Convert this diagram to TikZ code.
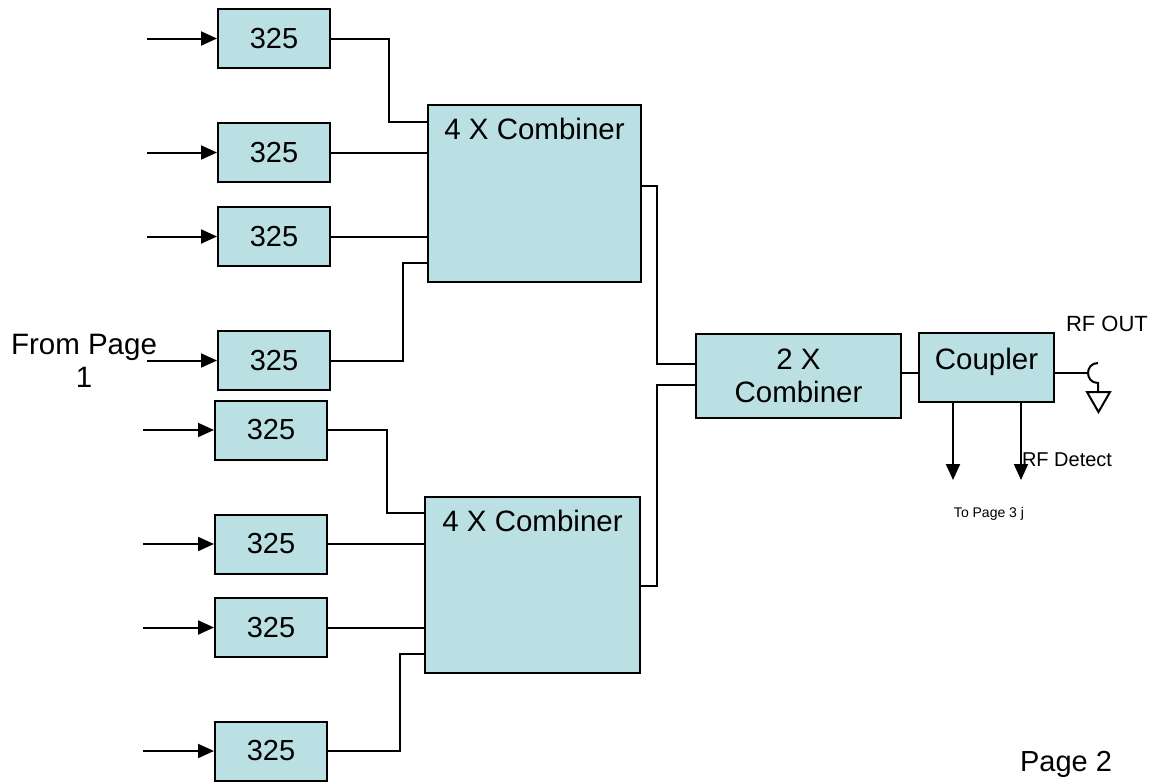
\documentclass[tikz,border=0pt]{standalone}
\usepackage{fontspec}
\setmainfont{Liberation Sans}
\usetikzlibrary{arrows.meta,calc}

\definecolor{ampfill}{RGB}{187,224,227}

\begin{document}
\begin{tikzpicture}[
    x=1pt, y=-1pt,
    font=\fontsize{29}{33}\selectfont,
    amp/.style={draw=black, fill=ampfill, line width=2pt, minimum width=112pt, minimum height=59pt, inner sep=0pt},
    combiner/.style={draw=black, fill=ampfill, line width=2pt, inner sep=0pt},
    wire/.style={line width=2pt, draw=black},
    arrow/.style={-{Triangle[length=16pt,width=14pt]}, line width=2pt, draw=black}
]
\useasboundingbox (0,0) rectangle (1154,782);

\node[amp] (amp1) at (274,38.5) {325};
\node[amp] (amp2) at (274,152.5) {325};
\node[amp] (amp3) at (274,236.5) {325};
\node[amp] (amp4) at (274,360.5) {325};
\node[amp] (amp5) at (271,430) {325};
\node[amp] (amp6) at (271,544) {325};
\node[amp] (amp7) at (271,627.5) {325};
\node[amp] (amp8) at (271,751) {325};

\node[combiner, minimum width=213pt, minimum height=177pt, label={[anchor=north, yshift=-11pt, font=\fontsize{29.5}{33}\selectfont]north:4 X Combiner}] (comb1) at (534.5,193.5) {};
\node[combiner, minimum width=215pt, minimum height=176pt, label={[anchor=north, yshift=-11pt, font=\fontsize{29.5}{33}\selectfont]north:4 X Combiner}] (comb2) at (532.5,585) {};
\node[combiner, minimum width=205pt, minimum height=84pt, align=center, font=\fontsize{29.5}{33}\selectfont] (comb3) at (798.5,376) {2 X\\Combiner};
\node[combiner, minimum width=135pt, minimum height=69pt, label={[anchor=north, yshift=-13pt, font=\fontsize{29.5}{33}\selectfont]north:Coupler}] (coupler) at (986.5,367.5) {};

\node[align=center, font=\fontsize{29.5}{33}\selectfont] (frompage) at (84,361) {From Page\\1};
\node[font=\fontsize{22}{26}\selectfont] (rfoutlabel) at (1107,324) {RF OUT};
\node[font=\fontsize{20}{24}\selectfont] (detect) at (1067,460) {RF Detect};
\node[font=\fontsize{14}{17}\selectfont] (topage3) at (989,514) {To Page 3 j};
\node (page2) at (1066,764) {Page 2};

% inputs
\coordinate (in1) at (147,38.5);
\coordinate (in2) at (147,152.5);
\coordinate (in3) at (147,236.5);
\coordinate (in4) at (147,360.5);
\coordinate (in5) at (143,430);
\coordinate (in6) at (143,544);
\coordinate (in7) at (143,627.5);
\coordinate (in8) at (143,751);
\draw[arrow] (in1) -- (amp1);
\draw[arrow] (in2) -- (amp2);
\draw[arrow] (in3) -- (amp3);
\draw[arrow] (in4) -- (amp4);
\draw[arrow] (in5) -- (amp5);
\draw[arrow] (in6) -- (amp6);
\draw[arrow] (in7) -- (amp7);
\draw[arrow] (in8) -- (amp8);

% amplifiers into combiners
\draw[wire] (amp1.east) -| (389,122) -- (comb1.west |- 0,122);
\draw[wire] (amp2.east) -- (comb1.west |- amp2.east);
\draw[wire] (amp3.east) -- (comb1.west |- amp3.east);
\draw[wire] (amp4.east) -| (403,263) -- (comb1.west |- 0,263);
\draw[wire] (amp5.east) -| (387,513) -- (comb2.west |- 0,513);
\draw[wire] (amp6.east) -- (comb2.west |- amp6.east);
\draw[wire] (amp7.east) -- (comb2.west |- amp7.east);
\draw[wire] (amp8.east) -| (400,654) -- (comb2.west |- 0,654);

% combiners to coupler
\draw[wire] (comb1.east |- 0,186) -| (657,364) -- (comb3.west |- 0,364);
\draw[wire] (comb2.east |- 0,586) -| (657,385) -- (comb3.west |- 0,385);
\draw[wire] (comb3.east |- 0,373) -- (coupler.west |- 0,373);

% rf out connector
\coordinate (rfout) at (1088,373);
\draw[wire] (coupler.east |- rfout) -- (rfout);
\draw[wire] (1098,363) .. controls (1084.7,363) and (1084.7,383) .. (1098,383) -- (1098,392);
\draw[wire] (1087,392) -- (1110,392) -- (1098.5,412) -- cycle;

% coupler taps
\coordinate (tap1) at (953,480);
\coordinate (tap2) at (1021,480);
\draw[arrow] (coupler.south -| tap1) -- (tap1);
\draw[arrow] (coupler.south -| tap2) -- (tap2);
\end{tikzpicture}
\end{document}
